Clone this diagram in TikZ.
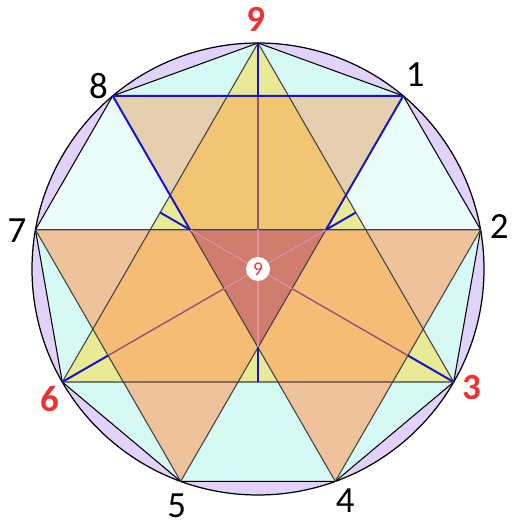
\documentclass[tikz,border=0pt]{standalone}
\usepackage{fontspec}
\setmainfont{Carlito}
\usetikzlibrary{calc}
\definecolor{lavring}{RGB}{224,210,248}
\definecolor{cyanfill}{RGB}{214,250,243}
\definecolor{cyanlight}{RGB}{234,253,250}
\definecolor{yellowfill}{RGB}{232,234,150}
\definecolor{orangeA}{RGB}{255,136,61}
\definecolor{salmonB}{RGB}{255,158,97}
\definecolor{darkcore}{RGB}{208,124,110}
\definecolor{bluemark}{RGB}{20,20,200}
\definecolor{mauve}{RGB}{150,80,120}
\definecolor{mauvelight}{RGB}{225,150,150}
\definecolor{numred}{RGB}{238,50,50}
\tikzset{
    ring/.style = {draw, line width=0.7pt, fill=lavring},
    edge/.style = {draw=black, line width=0.6pt},
    tri/.style = {draw=black!75, line width=0.6pt},
    bluestroke/.style = {draw=bluemark, line width=1.1pt},
    radial/.style = {draw=mauve, line width=0.8pt},
    lbl/.style = {inner sep=0pt, font=\fontsize{21}{25}\selectfont},
    redlbl/.style = {inner sep=0pt, text=numred, font=\fontsize{21}{25}\selectfont\bfseries},
    hub/.style = {circle, fill=white, minimum size=0.48cm, inner sep=0pt,
        text=numred, font=\fontsize{11}{13}\selectfont}
}

\begin{document}
\begin{tikzpicture}[line join=round]
    \useasboundingbox (-5.16,-5.14) rectangle (5.14,5.38);
    \def\R{4.52}
    % nonagon corners, 9 on top, then clockwise
    \foreach \n [count=\i from 0] in {9,1,2,3,4,5,6,7,8}
        \coordinate (n\n) at ({90-40*\i}:\R);
    \coordinate (O) at (0,0);
    \coordinate (pl) at (intersection of n7--n2 and n8--n4);
    \coordinate (pr) at (intersection of n7--n2 and n1--n5);
    \coordinate (pb) at (intersection of n8--n4 and n1--n5);

    % circle and nonagon
    \draw[ring] (O) circle (\R);
    \fill[cyanfill] (n9) -- (n1) -- (n2) -- (n3) -- (n4) -- (n5) -- (n6) -- (n7) -- (n8) -- cycle;
    \fill[cyanlight] (n7) -- (n8) -- (pl) -- cycle;
    \fill[cyanlight] (n1) -- (n2) -- (pr) -- cycle;

    % triangle 9-3-6 and the three down triangles
    \fill[yellowfill] (n9) -- (n3) -- (n6) -- cycle;
    \fill[orangeA, fill opacity=0.375] (n8) -- (n1) -- (pb) -- cycle;
    \fill[salmonB, fill opacity=0.6] (n7) -- (pr) -- (n5) -- cycle;
    \fill[salmonB, fill opacity=0.6] (pl) -- (n2) -- (n4) -- cycle;
    \fill[darkcore] (pl) -- (pr) -- (pb) -- cycle;

    % outlines
    \draw[edge] (n9) -- (n1) -- (n2) -- (n3) -- (n4) -- (n5) -- (n6) -- (n7) -- (n8) -- cycle;
    \draw[tri] (n9) -- (n3) -- (n6) -- cycle;
    \draw[tri] (n7) -- (n2) -- (n4) -- (n8);
    \draw[tri] (n1) -- (n5) -- (n7);

    % radii from the centre
    \foreach \t in {n9,n3,n6,pl,pr,pb}
        \draw[radial] (O) -- (\t);
    \begin{scope}
        \clip (pl) -- (pr) -- (pb) -- cycle;
        \foreach \t in {n9,n3,n6,pl,pr,pb}
            \draw[radial, draw=mauvelight] (O) -- (\t);
    \end{scope}

    % blue marks
    \draw[bluestroke] (pl) -- (n8) -- (n1) -- (pr);
    \draw[bluestroke] (n9) -- (n9 |- n8);
    \draw[bluestroke] (n6) -- ($(n7)!(n6)!(n5)$);
    \draw[bluestroke] (n3) -- ($(n2)!(n3)!(n4)$);
    \draw[bluestroke] (pl) -- ($(n9)!(pl)!(n6)$);
    \draw[bluestroke] (pr) -- ($(n9)!(pr)!(n3)$);
    \draw[bluestroke] (pb) -- (pb |- n6);

    \node[hub] (hub) at (O) {9};

    % numbers
    \node[redlbl] (l9) at (90.5:5.0) {9};
    \node[lbl] (l1) at (51:5.0) {1};
    \node[lbl] (l2) at (10:4.9) {2};
    \node[redlbl] (l3) at (-29:4.88) {3};
    \node[lbl] (l4) at (-69.4:4.96) {4};
    \node[lbl] (l5) at (-109:5.0) {5};
    \node[redlbl] (l6) at (-148:4.92) {6};
    \node[lbl] (l7) at (171:4.88) {7};
    \node[lbl] (l8) at (131:4.86) {8};
\end{tikzpicture}
\end{document}
